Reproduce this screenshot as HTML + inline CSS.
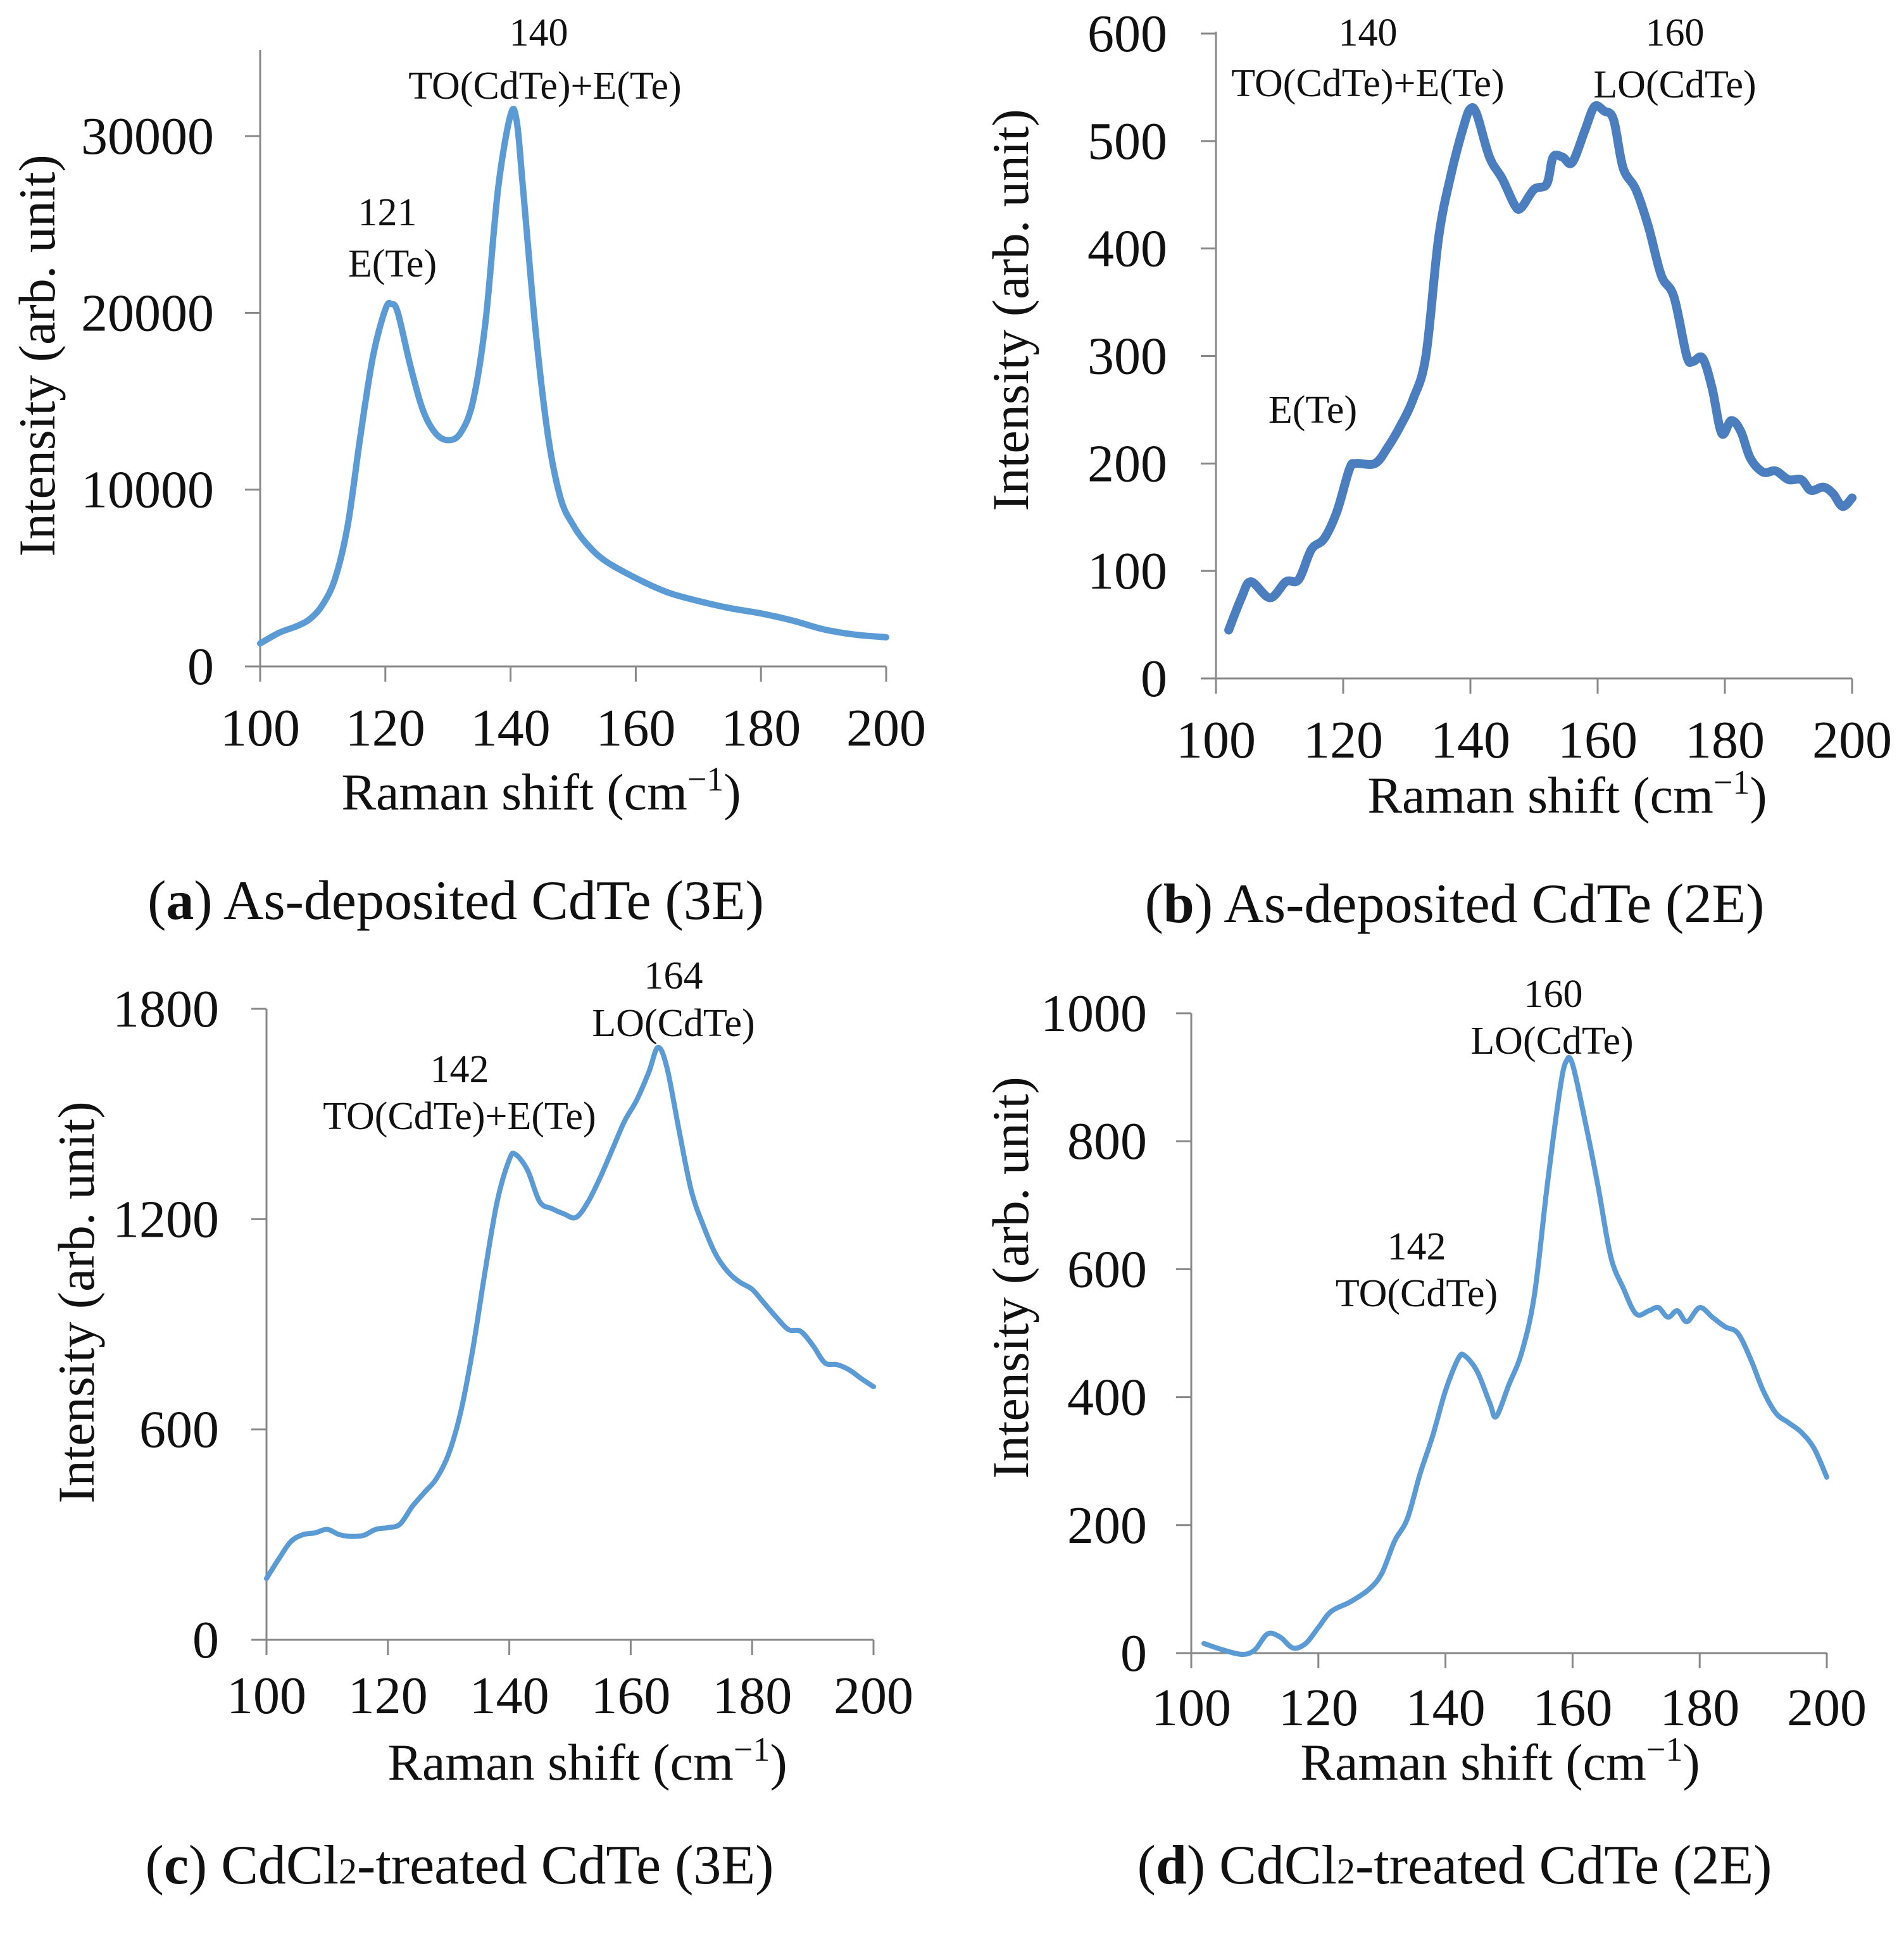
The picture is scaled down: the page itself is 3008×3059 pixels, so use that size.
<!DOCTYPE html>
<html><head><meta charset="utf-8">
<style>
html,body{margin:0;padding:0;background:#fff;}
svg{display:block;}
svg text{font-family:"Liberation Serif","Times New Roman",Times,serif !important;}
</style></head>
<body>
<svg id="fig" width="3008" height="3059" viewBox="0 0 3008 3059" xmlns="http://www.w3.org/2000/svg" font-family="Liberation Serif, serif"></svg>
<script>
const xTicks = [100,120,140,160,180,200];
const aX = [100,103,106,108,110,112,114,116,118,120,121,122,124,126,128,130,132,134,136,138,140,141,142,144,146,148,150,152,155,160,165,170,175,180,185,190,195,200];
const aY = [1300,1900,2300,2700,3500,5000,8000,13000,17500,20200,20500,20000,17000,14500,13200,12800,13200,15000,19500,27000,31200,30800,27000,19000,13000,9500,8000,7000,6000,5000,4200,3700,3300,3000,2600,2100,1800,1650];
const aTicks = [0,10000,20000,30000];
const bX = [102,104,105.5,108.5,111,113,115,117,119,121,122,125,127,129,131,133,135,137,139,140,141,143,145,147,148,150,152,153,154.5,156,158,159.5,161,162.5,164,166,168,170,172,174,175,176.5,178,179.5,181,182.5,184,186,188,190,192,193.5,195.5,197,198.5,200];
const bY = [45,75,90,75,90,92,120,130,155,195,200,200,215,235,260,300,410,470,515,530,525,485,465,440,438,455,460,485,485,480,510,532,528,520,475,455,420,375,355,300,295,298,270,228,240,230,205,192,193,185,185,175,178,172,160,168];
const bTicks = [0,100,200,300,400,500,600];
const cX = [100,102,104,106,108,110,112,114,116,118,120,122,124,126,128,130,132,134,136,138,140,141,143,145,147,149,151,153,155,157,159,161,163,164.5,166,168,170,172,174,176,178,180,182,184,186,188,190,192,194,196,198,200];
const cY = [175,230,280,300,305,315,300,295,298,315,320,330,380,420,460,530,650,830,1050,1250,1370,1385,1340,1250,1230,1215,1205,1250,1320,1400,1480,1540,1620,1690,1630,1450,1280,1180,1100,1050,1020,1000,960,920,885,880,840,790,785,770,745,722];
const cTicks = [0,600,1200,1800];
const dX = [102,105,108,110,112,114,116,118,120,122,125,128,130,132,134,136,138,140,142,143,145,147,148,150,152,154,156,158,159,160,162,164,166,168,170,172,173.5,175,176.5,178,180,182,184,186,188,190,192,194,196,198,200];
const dY = [15,5,-2,5,30,25,8,15,40,65,80,100,125,175,210,280,340,410,460,465,440,390,370,420,470,560,730,880,925,920,830,730,620,570,530,535,540,525,535,518,540,525,510,500,460,410,375,360,345,320,275];
const dTicks = [0,200,400,600,800,1000];

const NS="http://www.w3.org/2000/svg";
const svg=document.getElementById('fig');
function el(tag,attrs,parent){const e=document.createElementNS(NS,tag);for(const k in attrs)e.setAttribute(k,attrs[k]);(parent||svg).appendChild(e);return e;}
function txt(s,x,y,size,anchor,parent){const t=el('text',{x:x,y:y,'font-size':size,'text-anchor':anchor||'middle',fill:'#111','font-family':'Liberation Serif, serif'},parent);t.textContent=s;return t;}

function panel(p){
  const g=el('g',{});
  
  
  const sx=v=>p.x0+(v-100)/100*(p.x1-p.x0);
  const sy=v=>p.y0-(v/p.ymax)*(p.y0-p.y1);
  const ax=el('g',{},g);
  
  
  el('line',{x1:p.x0,y1:p.y0,x2:p.x1,y2:p.y0,stroke:'#888','stroke-width':3},ax);
  el('line',{x1:p.x0,y1:p.y0,x2:p.x0,y2:p.ytop,stroke:'#888','stroke-width':3},ax);
  xTicks.forEach(v=>{
    el('line',{x1:sx(v),y1:p.y0,x2:sx(v),y2:p.y0+24,stroke:'#888','stroke-width':3},ax);
    const t=txt(String(v),sx(v),p.xlb,84,'middle',ax);
    
    
  });
  p.ticks.forEach(v=>{
    el('line',{x1:p.x0-24,y1:sy(v),x2:p.x0,y2:sy(v),stroke:'#888','stroke-width':3},ax);
    const t=txt(String(v),p.ylr,sy(v)+28,84,'end',ax);
    
    
  });
  const xt=txt('',p.xtx,p.xty,82,'middle',g);
  
  
  xt.innerHTML='Raman shift (cm<tspan dy="-30" font-size="54">−1</tspan><tspan dy="30">)</tspan>';
  const yt=txt('Intensity (arb. unit)',0,0,82,'middle',g);
  yt.setAttribute('transform','translate('+(p.ytx+28)+','+p.yty+') rotate(-90)');
  
  
  const pts=p.X.map((x,i)=>[sx(x),sy(p.Y[i])]);
  let d='M'+pts[0][0]+','+pts[0][1];
  for(let i=0;i<pts.length-1;i++){
    const p0=pts[Math.max(0,i-1)],p1=pts[i],p2=pts[i+1],p3=pts[Math.min(pts.length-1,i+2)];
    const c1=[p1[0]+(p2[0]-p0[0])/6,p1[1]+(p2[1]-p0[1])/6];
    const c2=[p2[0]-(p3[0]-p1[0])/6,p2[1]-(p3[1]-p1[1])/6];
    d+=' C'+c1[0]+','+c1[1]+' '+c2[0]+','+c2[1]+' '+p2[0]+','+p2[1];
  }
  const path=el('path',{d:d,fill:'none',stroke:p.color,'stroke-width':p.lw,'stroke-linejoin':'round','stroke-linecap':'round'},g);
  
  
  p.ann.forEach(a=>{
    const t=txt(a[0],a[1],a[2],62,'middle',g);
    
    
  });
  const cap=txt('',p.capx,p.capy,88,'middle',g);
  
  
  cap.innerHTML=p.cap;
}

panel({name:'panel-a',x0:411,x1:1400,y0:1053,y1:215,ymax:30000,ytop:79,ticks:aTicks,X:aX,Y:aY,color:'#5b9bd5',lw:10,
  xlb:1178,ylr:338,xtx:855,xty:1279,ytx:58,yty:562,capx:720,capy:1452,
  cap:'(<tspan font-weight="bold">a</tspan>) As-deposited CdTe (3E)',
  ann:[['140',851,72],['TO(CdTe)+E(Te)',861,156],['121',612,356],['E(Te)',620,437]]});
panel({name:'panel-b',x0:1921,x1:2926,y0:1072,y1:53,ymax:600,ytop:50,ticks:bTicks,X:bX,Y:bY,color:'#4a7ebf',lw:14,
  xlb:1197,ylr:1844,xtx:2476,xty:1284,ytx:1596,yty:490,capx:2298,capy:1457,
  cap:'(<tspan font-weight="bold">b</tspan>) As-deposited CdTe (2E)',
  ann:[['140',2161,72],['TO(CdTe)+E(Te)',2161,152],['160',2646,72],['LO(CdTe)',2646,154],['E(Te)',2074,668]]});
panel({name:'panel-c',x0:421,x1:1380,y0:2591,y1:1594,ymax:1800,ytop:1594,ticks:cTicks,X:cX,Y:cY,color:'#5b9bd5',lw:8,
  xlb:2707,ylr:346,xtx:928,xty:2812,ytx:120,yty:2058,capx:726,capy:2976,
  cap:'(<tspan font-weight="bold">c</tspan>) CdCl<tspan font-size="58">2</tspan>-treated CdTe (3E)',
  ann:[['164',1064,1562],['LO(CdTe)',1064,1637],['142',726,1710],['TO(CdTe)+E(Te)',726,1784]]});
panel({name:'panel-d',x0:1882,x1:2886,y0:2612,y1:1601,ymax:1000,ytop:1601,ticks:dTicks,X:dX,Y:dY,color:'#5b9bd5',lw:8,
  xlb:2726,ylr:1812,xtx:2370,xty:2812,ytx:1596,yty:2019,capx:2298,capy:2976,
  cap:'(<tspan font-weight="bold">d</tspan>) CdCl<tspan font-size="58">2</tspan>-treated CdTe (2E)',
  ann:[['160',2454,1591],['LO(CdTe)',2452,1665],['142',2238,1990],['TO(CdTe)',2238,2064]]});
</script>
</body></html>
